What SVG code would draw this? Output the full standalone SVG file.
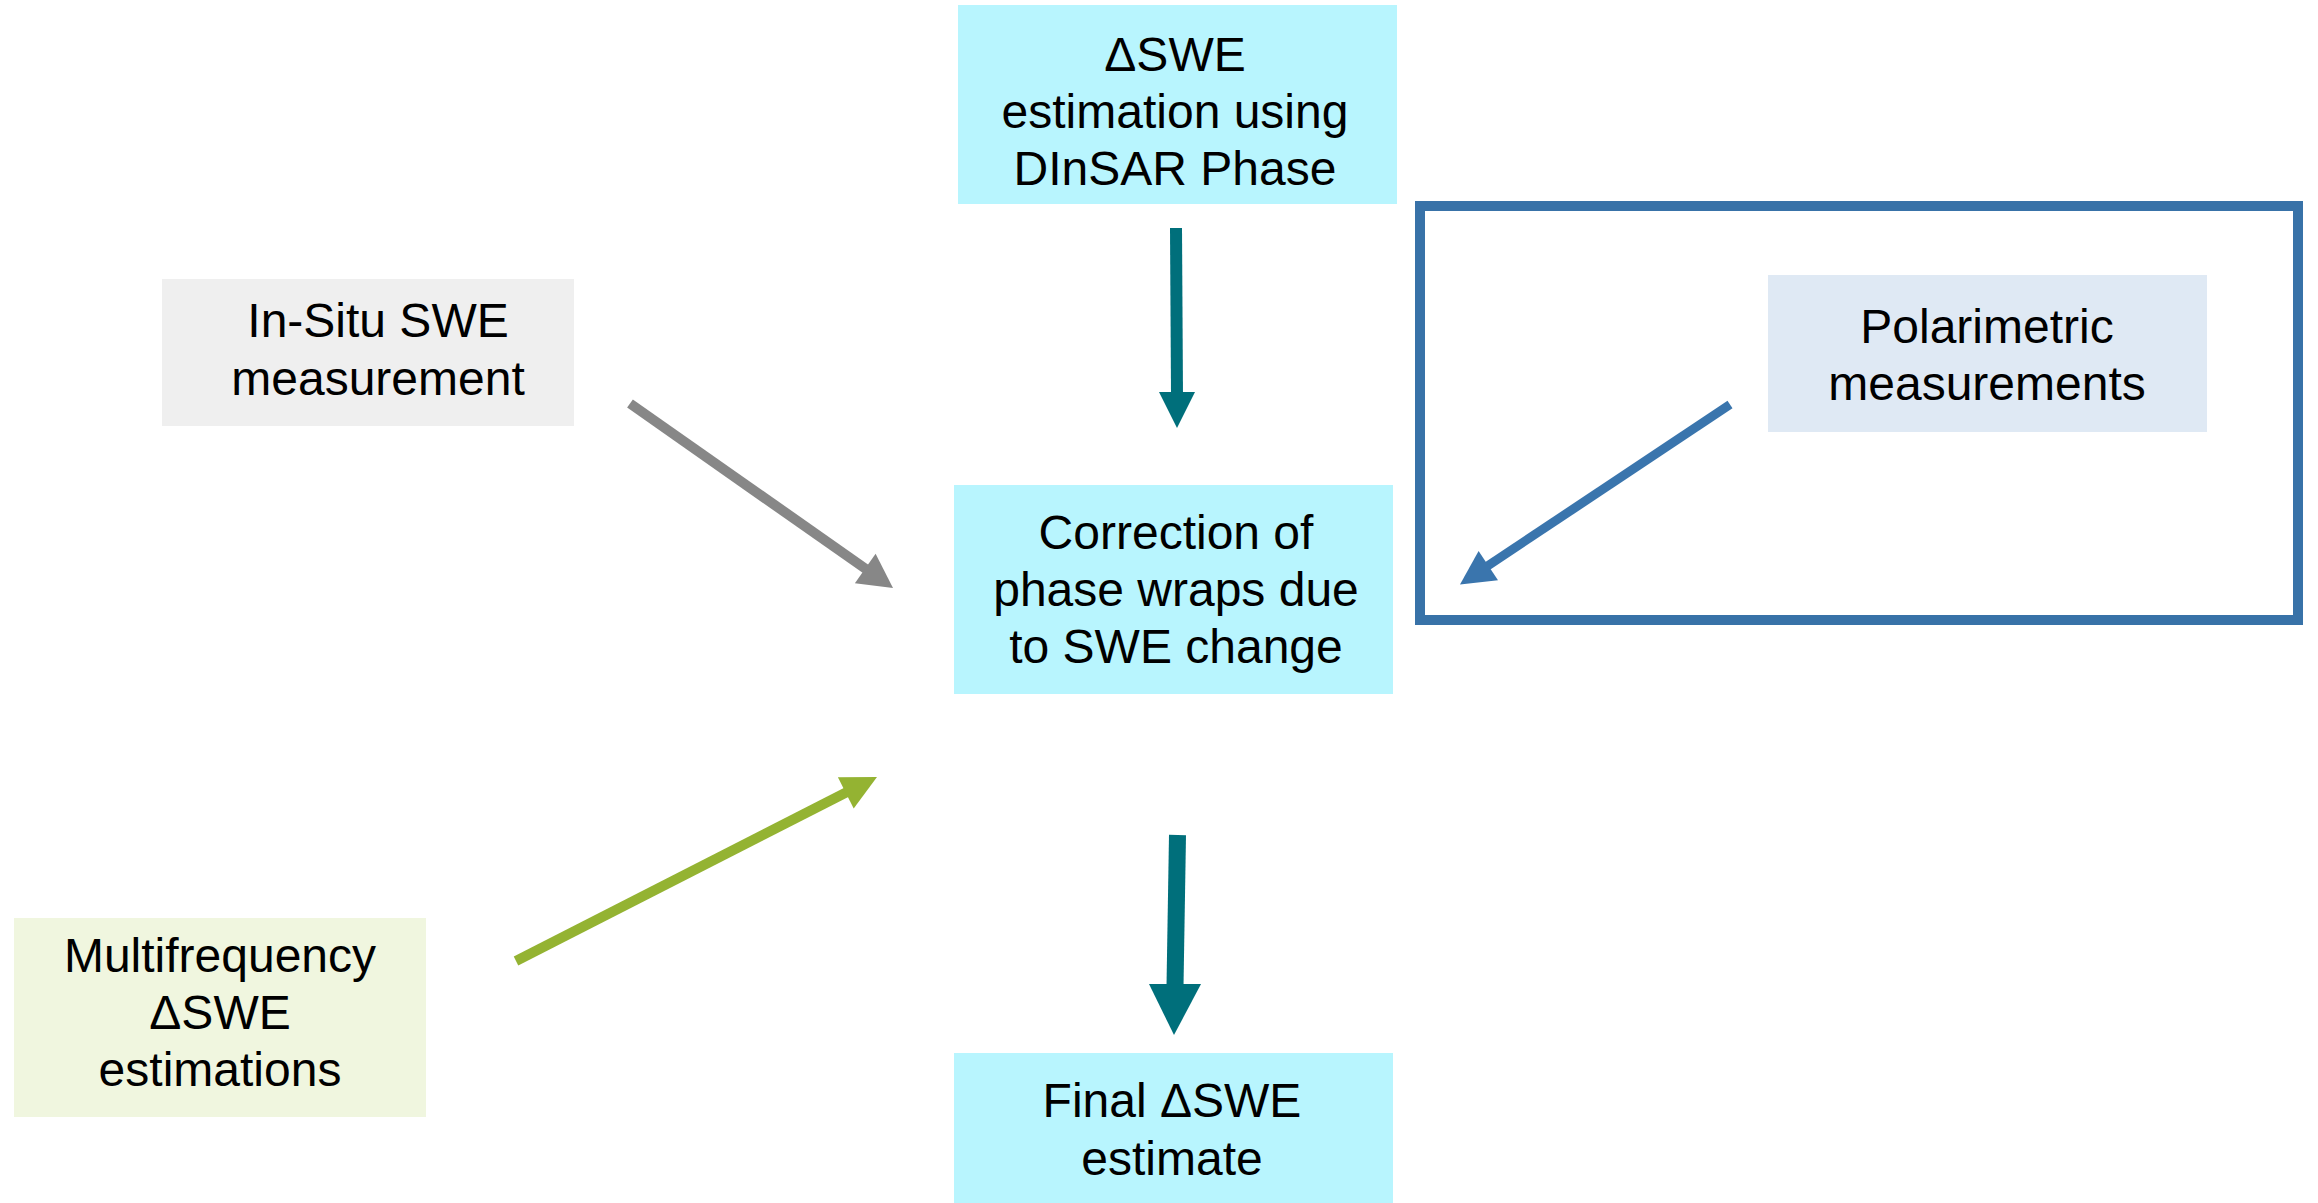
<svg xmlns="http://www.w3.org/2000/svg" width="2318" height="1203" viewBox="0 0 2318 1203">
<style>
  text { font-family: "Liberation Sans", Arial, sans-serif; font-size: 48px; fill: #000; text-anchor: middle; }
  .cyan { fill: #B8F5FE; }
  .grey { fill: #EFEFEF; }
  .pol { fill: #DFE9F4; }
  .green { fill: #F0F6DF; }
  .frame { fill: none; stroke: #3872A8; stroke-width: 10; }
  .teal-l { stroke: #006F7B; fill: none; }
  .teal-h { fill: #006F7B; }
  .gray-l { stroke: #878787; stroke-width: 10; fill: none; }
  .gray-h { fill: #878787; }
  .grn-l { stroke: #94B332; stroke-width: 10; fill: none; }
  .grn-h { fill: #94B332; }
  .blu-l { stroke: #3A75AD; stroke-width: 9; fill: none; }
  .blu-h { fill: #3A75AD; }
</style>
<rect width="2318" height="1203" fill="#FFFFFF"/>
<rect id="polarimetric-frame" class="frame" x="1420" y="206" width="878" height="414"/>
<g id="node-dswe-dinsar">
  <rect class="cyan" x="958" y="5" width="439" height="199"/>
  <text x="1175" y="71">ΔSWE</text>
  <text x="1175" y="128">estimation using</text>
  <text x="1175" y="185">DInSAR Phase</text>
</g>
<g id="node-insitu">
  <rect class="grey" x="162" y="279" width="412" height="147"/>
  <text x="378" y="337">In-Situ SWE</text>
  <text x="378" y="395">measurement</text>
</g>
<g id="node-polarimetric">
  <rect class="pol" x="1768" y="275" width="439" height="157"/>
  <text x="1987" y="343">Polarimetric</text>
  <text x="1987" y="400">measurements</text>
</g>
<g id="node-correction">
  <rect class="cyan" x="954" y="485" width="439" height="209"/>
  <text x="1176" y="549">Correction of</text>
  <text x="1176" y="606">phase wraps due</text>
  <text x="1176" y="663">to SWE change</text>
</g>
<g id="node-multifrequency">
  <rect class="green" x="14" y="918" width="412" height="199"/>
  <text x="220" y="972">Multifrequency</text>
  <text x="220" y="1029">ΔSWE</text>
  <text x="220" y="1086">estimations</text>
</g>
<g id="node-final">
  <rect class="cyan" x="954" y="1053" width="439" height="150"/>
  <text x="1172" y="1117">Final ΔSWE</text>
  <text x="1172" y="1175">estimate</text>
</g>
<g id="connectors">
  <line class="teal-l" stroke-width="12" x1="1176" y1="228" x2="1177" y2="394"/>
  <polygon class="teal-h" points="1159,392 1195,392 1177,428"/>
  <line class="teal-l" stroke-width="17" x1="1177.5" y1="835" x2="1175" y2="986"/>
  <polygon class="teal-h" points="1149,984 1201,984 1174,1035"/>
  <line class="gray-l" x1="630" y1="403.5" x2="868" y2="570.5"/>
  <polygon class="gray-h" points="893,588 854.9,583.2 875.6,553.7"/>
  <line class="grn-l" x1="516" y1="961" x2="849" y2="791"/>
  <polygon class="grn-h" points="877,777 853.7,808.5 837.9,777.3"/>
  <line class="blu-l" x1="1730" y1="404.6" x2="1486" y2="567"/>
  <polygon class="blu-h" points="1460,584.5 1498,580.2 1478.6,551.1"/>
</g>
</svg>
